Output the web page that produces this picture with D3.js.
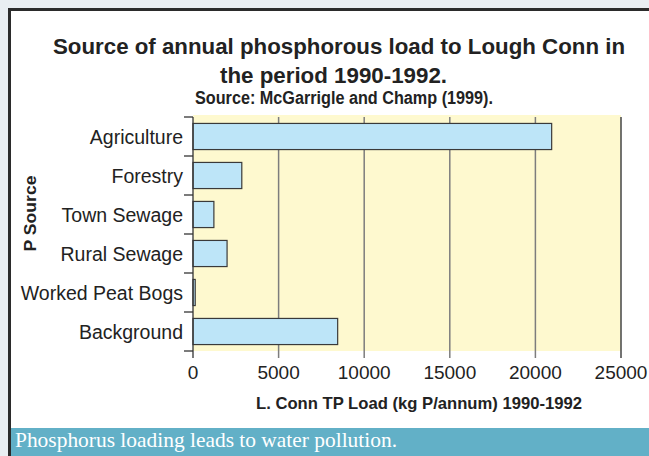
<!DOCTYPE html>
<html>
<head>
<meta charset="utf-8">
<script src="https://cdn.jsdelivr.net/npm/d3@7"></script>
<style>
  body { margin: 0; background: #e9eef2; }
  svg { display: block; }
</style>
</head>
<body>
<svg id="chart" width="649" height="456"></svg>
<script>
const categories = ["Agriculture", "Forestry", "Town Sewage", "Rural Sewage", "Worked Peat Bogs", "Background"];
const loads = [20950, 2850, 1220, 1990, 130, 8450];
const xTicks = [0, 5000, 10000, 15000, 20000, 25000];

const svg = d3.select("#chart");
const W = 649, H = 456;

// card + caption band
svg.append("rect").attr("x", 9.5).attr("y", 9.5).attr("width", W + 10).attr("height", H)
  .attr("fill", "#fff").attr("stroke", "#2b2b2b").attr("stroke-width", 3);
svg.append("rect").attr("x", 11).attr("y", 428).attr("width", W).attr("height", 30).attr("fill", "#62b0c7");
svg.append("text").attr("x", 15).attr("y", 446.5)
  .attr("font-family", "Liberation Serif, serif").attr("font-size", 21.5).attr("fill", "#fff")
  .attr("textLength", 382).attr("lengthAdjust", "spacingAndGlyphs")
  .text("Phosphorus loading leads to water pollution.");

// titles
const sans = "Liberation Sans, Arial, sans-serif";
svg.append("text").attr("x", 339).attr("y", 54).attr("text-anchor", "middle")
  .attr("font-family", sans).attr("font-weight", "bold").attr("font-size", 22.5).attr("fill", "#222")
  .attr("textLength", 572).attr("lengthAdjust", "spacingAndGlyphs")
  .text("Source of annual phosphorous load to Lough Conn in");
svg.append("text").attr("x", 333.5).attr("y", 82.5).attr("text-anchor", "middle")
  .attr("font-family", sans).attr("font-weight", "bold").attr("font-size", 22.5).attr("fill", "#222")
  .attr("textLength", 227).attr("lengthAdjust", "spacingAndGlyphs")
  .text("the period 1990-1992.");
svg.append("text").attr("x", 344).attr("y", 104).attr("text-anchor", "middle")
  .attr("font-family", sans).attr("font-weight", "bold").attr("font-size", 17.5).attr("fill", "#222")
  .attr("textLength", 298).attr("lengthAdjust", "spacingAndGlyphs")
  .text("Source: McGarrigle and Champ (1999).");

const x = d3.scaleLinear().domain([0, 25000]).range([193, 621]);
const y = d3.scaleBand().domain(categories).range([117, 351]).paddingInner(0.33).paddingOuter(0.165);

// plot background
svg.append("rect").attr("x", x(0)).attr("y", 115).attr("width", x(25000) - x(0)).attr("height", 351 - 115)
  .attr("fill", "#fef9cf");

// vertical gridlines (ticks below)
svg.append("g").selectAll("line").data(xTicks.slice(1)).join("line")
  .attr("x1", d => x(d)).attr("x2", d => x(d)).attr("y1", 117).attr("y2", 358)
  .attr("stroke", d => d === 25000 ? "#444" : "#7d7d7d").attr("stroke-width", 1.5);

// bars
svg.append("g").selectAll("rect").data(categories).join("rect")
  .attr("x", x(0)).attr("y", d => y(d)).attr("height", y.bandwidth())
  .attr("width", (d, i) => x(loads[i]) - x(0))
  .attr("fill", "#bde5f8").attr("stroke", "#3a3a3a").attr("stroke-width", 1.2);

// y axis: line with ticks at band boundaries
const bounds = d3.range(categories.length + 1).map(i => 117 + i * (351 - 117) / categories.length);
svg.append("line").attr("x1", x(0)).attr("x2", x(0)).attr("y1", 117).attr("y2", 358)
  .attr("stroke", "#333").attr("stroke-width", 1.3);
svg.append("g").selectAll("line").data(bounds).join("line")
  .attr("x1", 184).attr("x2", x(0)).attr("y1", d => d).attr("y2", d => d)
  .attr("stroke", "#333").attr("stroke-width", 1.3);

svg.append("g").selectAll("text").data(categories).join("text")
  .attr("x", 183).attr("y", d => y(d) + y.bandwidth() / 2 + 7).attr("text-anchor", "end")
  .attr("font-family", sans).attr("font-size", 19.5).attr("fill", "#222")
  .text(d => d);

// x tick labels
svg.append("g").selectAll("text").data(xTicks).join("text")
  .attr("x", d => x(d)).attr("y", 379).attr("text-anchor", "middle")
  .attr("font-family", sans).attr("font-size", 19).attr("fill", "#222")
  .text(d => d);

// axis titles
svg.append("text").attr("x", 419).attr("y", 409).attr("text-anchor", "middle")
  .attr("font-family", sans).attr("font-weight", "bold").attr("font-size", 17).attr("fill", "#222")
  .attr("textLength", 326).attr("lengthAdjust", "spacingAndGlyphs")
  .text("L. Conn TP Load (kg P/annum) 1990-1992");
svg.append("text").attr("transform", "translate(36,213.5) rotate(-90)").attr("text-anchor", "middle")
  .attr("font-family", sans).attr("font-weight", "bold").attr("font-size", 17).attr("fill", "#222")
  .attr("textLength", 76).attr("lengthAdjust", "spacingAndGlyphs")
  .text("P Source");
</script>
</body>
</html>
